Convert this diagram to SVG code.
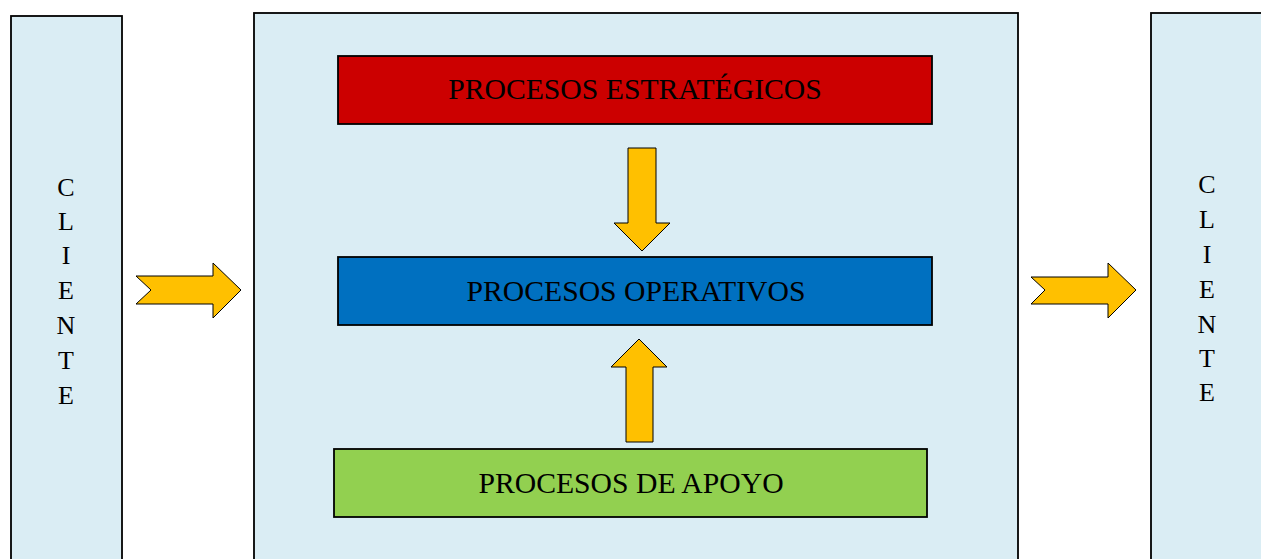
<svg xmlns="http://www.w3.org/2000/svg" width="1261" height="559" viewBox="0 0 1261 559">
<style>
.panel{fill:#DAEDF4;stroke:#000;stroke-width:1.8}
.box{stroke:#000;stroke-width:1.8}
.arrow{fill:#FFC000;stroke:#000;stroke-width:1;stroke-linejoin:miter}
.t{font-family:"Liberation Serif","Times New Roman",serif;font-size:29.7px;fill:#000;text-anchor:middle;dominant-baseline:central}
.v{font-family:"Liberation Serif","Times New Roman",serif;font-size:26px;fill:#000;text-anchor:middle;dominant-baseline:central}
</style>
<rect width="1261" height="559" fill="#fff"/>
<g id="cliente-left">
<rect class="panel" x="11" y="16" width="111" height="560"/>
<text class="v" x="66" y="187">C</text>
<text class="v" x="66" y="221">L</text>
<text class="v" x="66" y="255">I</text>
<text class="v" x="66" y="290">E</text>
<text class="v" x="66" y="325">N</text>
<text class="v" x="66" y="360">T</text>
<text class="v" x="66" y="395">E</text>
</g>
<g id="center-panel">
<rect class="panel" x="254" y="13" width="764" height="560"/>
</g>
<g id="cliente-right">
<rect class="panel" x="1151" y="13" width="130" height="560"/>
<text class="v" x="1207" y="184">C</text>
<text class="v" x="1207" y="219">L</text>
<text class="v" x="1207" y="254">I</text>
<text class="v" x="1207" y="289">E</text>
<text class="v" x="1207" y="324">N</text>
<text class="v" x="1207" y="358">T</text>
<text class="v" x="1207" y="392">E</text>
</g>
<g id="estrategicos">
<rect class="box" x="338" y="56" width="594" height="68" fill="#CC0000"/>
<text class="t" x="635" y="89">PROCESOS ESTRATÉGICOS</text>
</g>
<g id="operativos">
<rect class="box" x="338" y="257" width="594" height="68" fill="#0070C0"/>
<text class="t" x="636" y="291">PROCESOS OPERATIVOS</text>
</g>
<g id="apoyo">
<rect class="box" x="334" y="449" width="593" height="68" fill="#92D050"/>
<text class="t" x="631" y="483">PROCESOS DE APOYO</text>
</g>
<g id="connectors">
<polygon class="arrow" points="136,276 213,276 213,263 241,290 213,318 213,304 136,304 151,290"/>
<polygon class="arrow" points="1031,277 1108,277 1108,263 1136,290 1108,318 1108,304 1031,304 1045,290"/>
<polygon class="arrow" points="628,148 656,148 656,223 670,223 642,251 614,223 628,223"/>
<polygon class="arrow" points="626,442 653,442 653,367 667,367 639,339 611,367 626,367"/>
</g>
</svg>
